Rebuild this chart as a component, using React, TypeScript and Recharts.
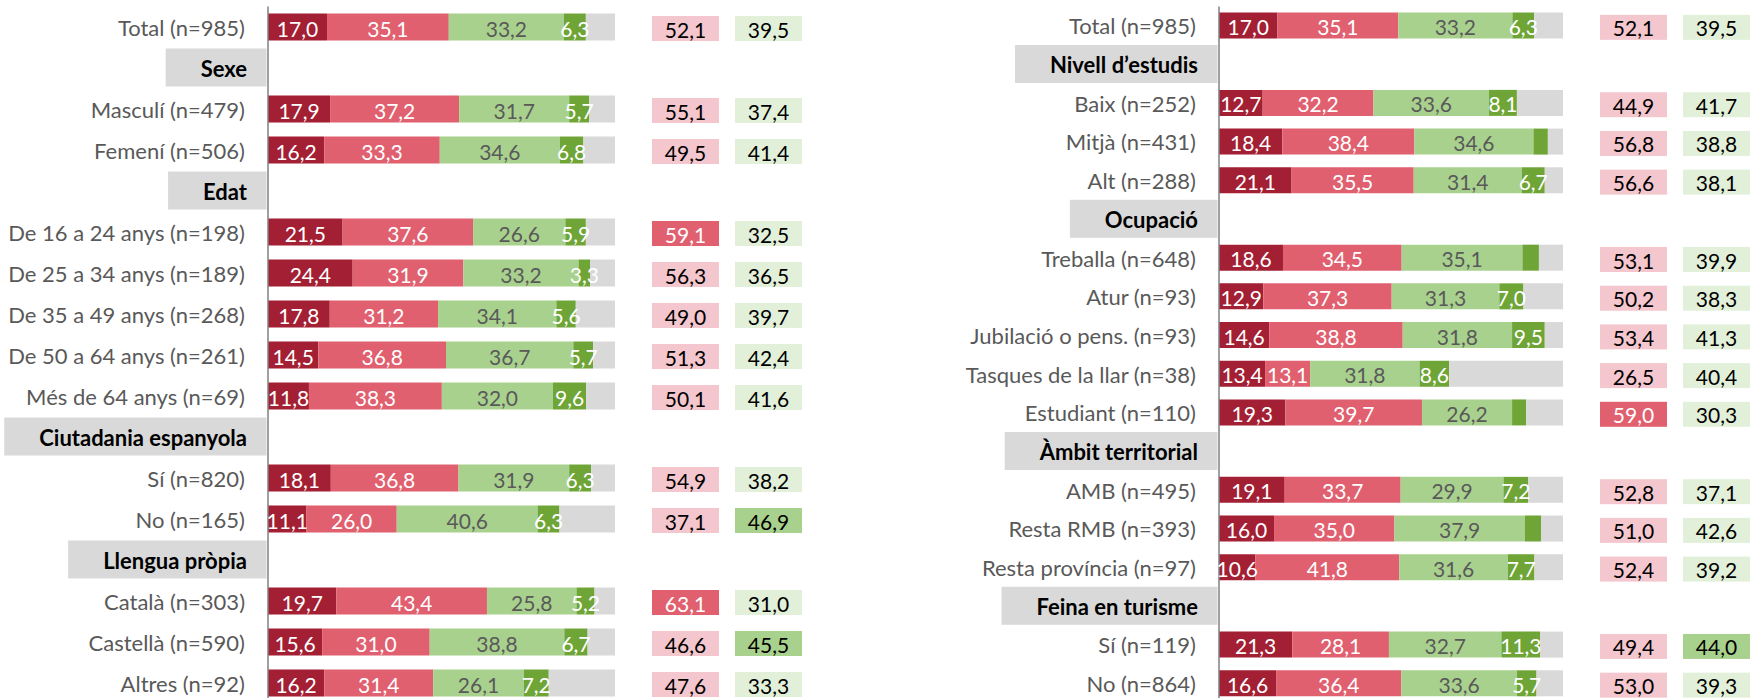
import React from "react";
import { BarChart, Bar, XAxis, YAxis, LabelList } from "recharts";

// left panel
const LEFT_CATEGORIES = [
  "Total (n=985)", "Sexe", "Masculí (n=479)", "Femení (n=506)", "Edat",
  "De 16 a 24 anys (n=198)", "De 25 a 34 anys (n=189)", "De 35 a 49 anys (n=268)",
  "De 50 a 64 anys (n=261)", "Més de 64 anys (n=69)", "Ciutadania espanyola",
  "Sí (n=820)", "No (n=165)", "Llengua pròpia", "Català (n=303)", "Castellà (n=590)", "Altres (n=92)",
];
const LEFT_HEADERS = ["Sexe", "Edat", "Ciutadania espanyola", "Llengua pròpia"];
const LEFT_MOLT = [17.0, null, 17.9, 16.2, null, 21.5, 24.4, 17.8, 14.5, 11.8, null, 18.1, 11.1, null, 19.7, 15.6, 16.2];
const LEFT_BASTANT = [35.1, null, 37.2, 33.3, null, 37.6, 31.9, 31.2, 36.8, 38.3, null, 36.8, 26.0, null, 43.4, 31.0, 31.4];
const LEFT_POC = [33.2, null, 31.7, 34.6, null, 26.6, 33.2, 34.1, 36.7, 32.0, null, 31.9, 40.6, null, 25.8, 38.8, 26.1];
const LEFT_GENS = [6.3, null, 5.7, 6.8, null, 5.9, 3.3, 5.6, 5.7, 9.6, null, 6.3, 6.3, null, 5.2, 6.7, 7.2];
const LEFT_NSNC = [8.4, null, 7.5, 9.1, null, 8.4, 7.2, 11.3, 6.3, 8.3, null, 6.9, 16.0, null, 5.9, 7.9, 19.1];
const LEFT_PREOCUPAT = [52.1, null, 55.1, 49.5, null, 59.1, 56.3, 49.0, 51.3, 50.1, null, 54.9, 37.1, null, 63.1, 46.6, 47.6];
const LEFT_NO_PREOCUPAT = [39.5, null, 37.4, 41.4, null, 32.5, 36.5, 39.7, 42.4, 41.6, null, 38.2, 46.9, null, 31.0, 45.5, 33.3];

// right panel
const RIGHT_CATEGORIES = [
  "Total (n=985)", "Nivell d’estudis", "Baix (n=252)", "Mitjà (n=431)", "Alt (n=288)", "Ocupació",
  "Treballa (n=648)", "Atur (n=93)", "Jubilació o pens. (n=93)", "Tasques de la llar (n=38)",
  "Estudiant (n=110)", "Àmbit territorial", "AMB (n=495)", "Resta RMB (n=393)",
  "Resta província (n=97)", "Feina en turisme", "Sí (n=119)", "No (n=864)",
];
const RIGHT_HEADERS = ["Nivell d’estudis", "Ocupació", "Àmbit territorial", "Feina en turisme"];
const RIGHT_MOLT = [17.0, null, 12.7, 18.4, 21.1, null, 18.6, 12.9, 14.6, 13.4, 19.3, null, 19.1, 16.0, 10.6, null, 21.3, 16.6];
const RIGHT_BASTANT = [35.1, null, 32.2, 38.4, 35.5, null, 34.5, 37.3, 38.8, 13.1, 39.7, null, 33.7, 35.0, 41.8, null, 28.1, 36.4];
const RIGHT_POC = [33.2, null, 33.6, 34.6, 31.4, null, 35.1, 31.3, 31.8, 31.8, 26.2, null, 29.9, 37.9, 31.6, null, 32.7, 33.6];
const RIGHT_GENS = [6.3, null, 8.1, 4.2, 6.7, null, 4.8, 7.0, 9.5, 8.6, 4.1, null, 7.2, 4.7, 7.7, null, 11.3, 5.7];
const RIGHT_NSNC = [8.4, null, 13.4, 4.4, 5.3, null, 7.0, 11.5, 5.3, 33.1, 10.7, null, 10.1, 6.4, 8.3, null, 6.6, 7.7];
const RIGHT_PREOCUPAT = [52.1, null, 44.9, 56.8, 56.6, null, 53.1, 50.2, 53.4, 26.5, 59.0, null, 52.8, 51.0, 52.4, null, 49.4, 53.0];
const RIGHT_NO_PREOCUPAT = [39.5, null, 41.7, 38.8, 38.1, null, 39.9, 38.3, 41.3, 40.4, 30.3, null, 37.1, 42.6, 39.2, null, 44.0, 39.3];
// rows whose "gens" segment carries no label in the original
const RIGHT_GENS_UNLABELED = ["Mitjà (n=431)", "Treballa (n=648)", "Estudiant (n=110)", "Resta RMB (n=393)"];

const FONT = "Lato, 'Open Sans', sans-serif";
const FS = 21;
const FS_CAT = 22;
const COLORS = {
  molt: "#A31F33",
  bastant: "#E06070",
  poc: "#A9D18E",
  gens: "#6EA536",
  nsnc: "#D9D9D9",
  axis: "#808080",
  label: "#595959",
  pinkSoft: "#F4C7CE",
  greenSoft: "#E2F0D9",
};

const fmt = (v: number) => v.toFixed(1).replace(".", ",");

let ctx: CanvasRenderingContext2D | null = null;
function textWidth(text: string, font: string) {
  if (!ctx) ctx = document.createElement("canvas").getContext("2d");
  if (!ctx) return text.length * 11;
  ctx.font = font;
  return ctx.measureText(text).width;
}

function buildRows(cats: string[], molt: any[], bastant: any[], poc: any[], gens: any[], nsnc: any[], preoc: any[], nopreoc: any[], unlabeled: string[] = []) {
  return cats.map((label, i) => ({
    label,
    molt: molt[i],
    bastant: bastant[i],
    poc: poc[i],
    gens: gens[i],
    gensLabel: unlabeled.includes(label) ? null : gens[i],
    nsnc: nsnc[i],
    preoc: preoc[i],
    nopreoc: nopreoc[i],
  }));
}

const segLabel = (color: string) => (props: any) => {
  const { x, y, width, height, value } = props;
  if (value == null) return null;
  return (
    <text
      x={Number(x) + Number(width) / 2}
      y={Number(y) + Number(height) / 2 + 1}
      fill={color}
      textAnchor="middle"
      dominantBaseline="central"
      fontSize={FS}
      fontFamily={FONT}
    >
      {fmt(value)}
    </text>
  );
};

function CategoryTick(props: any) {
  const { x, y, payload, headers } = props;
  const label: string = payload.value;
  if (headers.includes(label)) {
    const w = textWidth(label, `bold ${FS_CAT}px Lato`) + 56;
    return (
      <g>
        <rect x={x - w} y={y - 19.5} width={w - 1.5} height={38} fill={COLORS.nsnc} />
        <text x={x - 21} y={y} textAnchor="end" dominantBaseline="central"
          fontWeight="bold" fontSize={FS_CAT} fontFamily={FONT} fill="#000">
          {label}
        </text>
      </g>
    );
  }
  return (
    <text x={x - 23} y={y} textAnchor="end" dominantBaseline="central"
      fontSize={FS_CAT} fontFamily={FONT} fill={COLORS.label}>
      {label}
    </text>
  );
}

function BoxTick(props: any) {
  const { x, y, index, rows } = props;
  const row = rows[index];
  if (!row || row.preoc == null) return null;
  const strongPink = row.preoc >= 58;
  const strongGreen = row.nopreoc >= 44;
  return (
    <g fontSize={FS} fontFamily={FONT}>
      <rect x={x + 37} y={y - 11} width={67} height={25} fill={strongPink ? COLORS.bastant : COLORS.pinkSoft} />
      <text x={x + 70.5} y={y + 2} textAnchor="middle" dominantBaseline="central" fill={strongPink ? "#fff" : "#000"}>
        {fmt(row.preoc)}
      </text>
      <rect x={x + 120} y={y - 11} width={67} height={25} fill={strongGreen ? COLORS.poc : COLORS.greenSoft} />
      <text x={x + 153.5} y={y + 2} textAnchor="middle" dominantBaseline="central" fill="#000">
        {fmt(row.nopreoc)}
      </text>
    </g>
  );
}

function Panel({ rows, headers, left, width, axisW, plotW, barSize, bottom }: any) {
  return (
    <div style={{ position: "absolute", left, top: 0 }}>
      <BarChart
        width={width}
        height={704}
        data={rows}
        layout="vertical"
        margin={{ top: 6.5, right: 0, bottom, left: 0 }}
        barSize={barSize}
      >
        <XAxis type="number" domain={[0, 100]} hide xAxisId="x" />
        <YAxis
          yAxisId="l"
          type="category"
          dataKey="label"
          width={axisW}
          interval={0}
          tickSize={0}
          tickMargin={0}
          tickLine={false}
          axisLine={{ stroke: COLORS.axis, strokeWidth: 1.5 }}
          tick={<CategoryTick headers={headers} />}
        />
        <YAxis
          yAxisId="r"
          orientation="right"
          type="category"
          dataKey="label"
          width={width - axisW - plotW}
          interval={0}
          tickSize={0}
          tickMargin={0}
          tickLine={false}
          axisLine={false}
          tick={<BoxTick rows={rows} />}
        />
        <Bar dataKey="molt" stackId="s" yAxisId="l" xAxisId="x" fill={COLORS.molt} isAnimationActive={false}>
          <LabelList dataKey="molt" content={segLabel("#fff")} />
        </Bar>
        <Bar dataKey="bastant" stackId="s" yAxisId="l" xAxisId="x" fill={COLORS.bastant} isAnimationActive={false}>
          <LabelList dataKey="bastant" content={segLabel("#fff")} />
        </Bar>
        <Bar dataKey="poc" stackId="s" yAxisId="l" xAxisId="x" fill={COLORS.poc} isAnimationActive={false}>
          <LabelList dataKey="poc" content={segLabel(COLORS.label)} />
        </Bar>
        <Bar dataKey="gens" stackId="s" yAxisId="l" xAxisId="x" fill={COLORS.gens} isAnimationActive={false}>
          <LabelList dataKey="gensLabel" content={segLabel("#fff")} />
        </Bar>
        <Bar dataKey="nsnc" stackId="s" yAxisId="l" xAxisId="x" fill={COLORS.nsnc} isAnimationActive={false} />
      </BarChart>
    </div>
  );
}

export default function App() {
  const leftRows = buildRows(LEFT_CATEGORIES, LEFT_MOLT, LEFT_BASTANT, LEFT_POC, LEFT_GENS, LEFT_NSNC, LEFT_PREOCUPAT, LEFT_NO_PREOCUPAT);
  const rightRows = buildRows(RIGHT_CATEGORIES, RIGHT_MOLT, RIGHT_BASTANT, RIGHT_POC, RIGHT_GENS, RIGHT_NSNC, RIGHT_PREOCUPAT, RIGHT_NO_PREOCUPAT, RIGHT_GENS_UNLABELED);
  return (
    <div style={{ position: "absolute", left: 0, top: 0, width: 1752, height: 698, overflow: "hidden", background: "#fff" }}>
      <Panel rows={leftRows} headers={LEFT_HEADERS} left={0} width={810} axisW={268} plotW={347} barSize={27} bottom={0.5} />
      <Panel rows={rightRows} headers={RIGHT_HEADERS} left={950} width={802} axisW={269} plotW={344} barSize={26} bottom={1} />
    </div>
  );
}
